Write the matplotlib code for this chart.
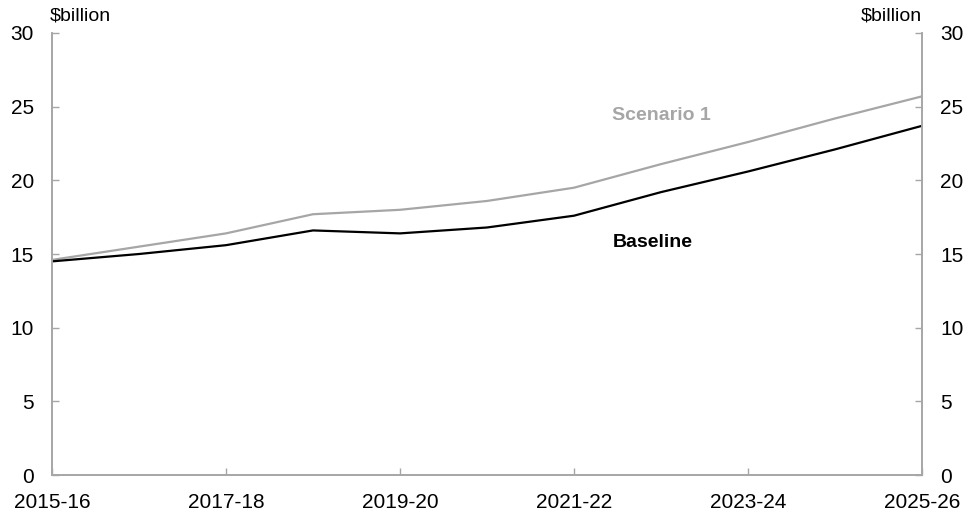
import matplotlib
matplotlib.use("Agg")
import matplotlib.pyplot as plt

plt.rcParams['font.family'] = ['Liberation Sans', 'DejaVu Sans']

years = ['2015-16', '2016-17', '2017-18', '2018-19', '2019-20', '2020-21',
         '2021-22', '2022-23', '2023-24', '2024-25', '2025-26']
baseline = [14.5, 15.0, 15.6, 16.6, 16.4, 16.8, 17.6, 19.2, 20.6, 22.1, 23.7]
scenario1 = [14.6, 15.5, 16.4, 17.7, 18.0, 18.6, 19.5, 21.1, 22.6, 24.2, 25.7]

grey = '#A6A6A6'
x = list(range(len(years)))

fig = plt.figure(figsize=(9.68, 5.13), dpi=100)
ax = fig.add_axes([0.0537, 0.074, 0.8988, 0.8617])

ax.plot(x, scenario1, color=grey, lw=1.6)
ax.plot(x, baseline, color='black', lw=1.6)

ax.set_xlim(0, 10)
ax.set_ylim(0, 30)
ax.set_yticks([0, 5, 10, 15, 20, 25, 30])
ax.set_xticks(x[::2])
ax.set_xticklabels(years[::2])

ax2 = ax.twinx()
ax2.set_ylim(0, 30)
ax2.set_yticks([0, 5, 10, 15, 20, 25, 30])

for a in (ax, ax2):
    for s in a.spines.values():
        s.set_color(grey)
        s.set_linewidth(1.2)
    a.spines['top'].set_visible(False)
    a.tick_params(direction='in', length=5, width=1, color=grey,
                  labelsize=15, pad=13)
ax.tick_params(axis='x', pad=13)

ax.text(7.0, 24.4, 'Scenario 1', color=grey, fontsize=14,
        fontweight='bold', ha='center', va='center')
ax.text(6.9, 15.8, 'Baseline', color='black', fontsize=14,
        fontweight='bold', ha='center', va='center')

fig.text(0.051, 0.968, '$billion', fontsize=14, ha='left', va='center')
fig.text(0.9525, 0.968, '$billion', fontsize=14, ha='right', va='center')

fig.savefig('out.png', dpi=100)
